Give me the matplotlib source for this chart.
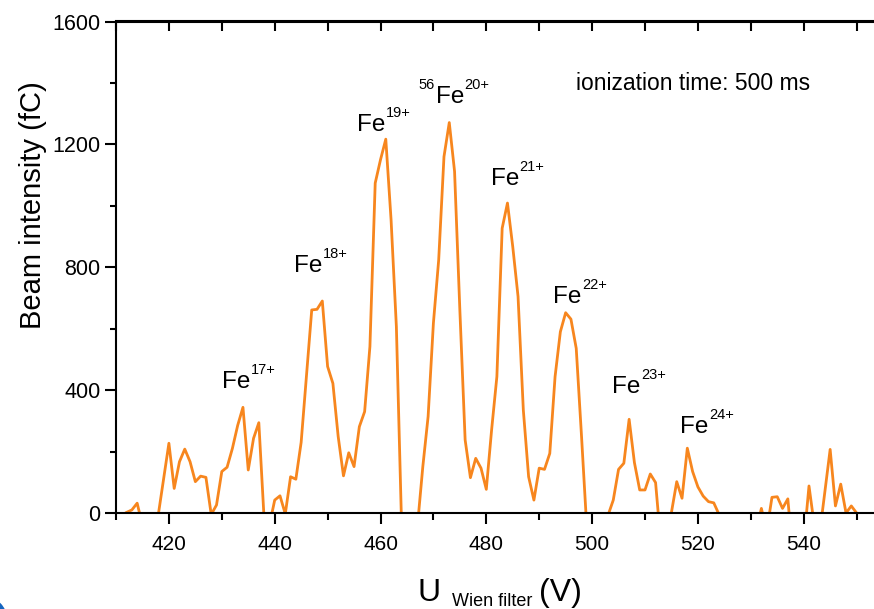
import numpy as np
import matplotlib.pyplot as plt
from matplotlib.ticker import MultipleLocator
from matplotlib.patches import Ellipse

plt.rcParams['font.family'] = ['Liberation Sans', 'DejaVu Sans']

# Wien filter voltage (V), 1 V steps
voltage = np.arange(412, 551)

# beam intensity (fC); negative readings fall below the axis
intensity = [
    2, 10, 32, -40, -60, -50, -5, 110, 227,           # 412-420
    80, 167, 208, 167, 102, 120, 116, -5, 26, 135,     # 421-430
    149, 210, 285, 344, 140, 243, 294, -20, -40, 42,   # 431-440
    56, -3, 118, 110, 230, 444, 661, 663, 690, 477,    # 441-450
    422, 249, 121, 196, 151, 281, 330, 542, 1074, 1150,  # 451-460
    1217, 954, 607, -50, -300, -200, -40, 151, 314, 618,  # 461-470
    824, 1160, 1271, 1112, 661, 238, 115, 178, 146, 77,   # 471-480
    270, 444, 927, 1009, 867, 705, 335, 118, 42, 146,     # 481-490
    142, 194, 444, 590, 652, 631, 536, 250, -50, -100,    # 491-500
    -120, -80, -8, 42, 142, 162, 305, 164, 75, 75,        # 501-510
    127, 99, -100, -60, 2, 102, 48, 211, 135, 85,         # 511-520
    55, 37, 33, -5, -50, -80, -90, -80, -70, -60,         # 521-530
    -60, 15, -60, 51, 53, 15, 46, -150, -100, -100,       # 531-540
    88, -40, -69, 69, 207, 23, 94, 0, 23, 0,              # 541-550
]

# peak labels: left edge of "Fe", baseline, charge state
ion_x = [430.1, 443.7, 455.6, 470.4, 480.8, 492.7, 503.8, 516.7]
ion_y = [407, 785, 1244, 1335, 1068, 684, 391, 261]
ion_charge = ['17+', '18+', '19+', '20+', '21+', '22+', '23+', '24+']
ion_mass = [None, None, None, '56', None, None, None, None]

x_ticks = [420, 440, 460, 480, 500, 520, 540]
orange = '#f7861e'

fig = plt.figure(figsize=(8.74, 6.09), dpi=100)
ax = fig.add_axes([116 / 874, 96 / 609, 793.5 / 874, 491.5 / 609])

ax.plot(voltage, intensity, color=orange, lw=2.0)
ax.set_xlim(410, 560)
ax.set_ylim(0, 1600)

ax.set_xticks(x_ticks)
ax.xaxis.set_minor_locator(MultipleLocator(10))
ax.set_yticks(np.arange(0, 1601, 400))
ax.yaxis.set_minor_locator(MultipleLocator(200))

for s in ['left', 'bottom', 'top']:
    ax.spines[s].set_linewidth(1.5)
ax.spines['right'].set_visible(False)

ax.tick_params(axis='x', which='major', direction='out', length=8, width=1.5,
               labelsize=15, pad=8, top=False)
ax.tick_params(axis='x', which='minor', direction='out', length=5, width=1.5, top=False)
ax.tick_params(axis='y', which='major', direction='out', length=8, width=1.5,
               labelsize=15.5, pad=3)
ax.tick_params(axis='y', which='minor', direction='out', length=4, width=1.5)

# top axis: inward ticks only
top = ax.secondary_xaxis('top')
top.set_xticks(x_ticks)
top.xaxis.set_minor_locator(MultipleLocator(10))
top.tick_params(axis='x', which='both', direction='in', length=7, width=1.5,
                labeltop=False)
top.spines['top'].set_linewidth(1.5)

# ion labels
for x, y, q, m in zip(ion_x, ion_y, ion_charge, ion_mass):
    t = ax.text(x, y, 'Fe', fontsize=17.5, ha='left', va='baseline')
    ax.annotate(q, xy=(1.0, y), xycoords=(t, 'data'), xytext=(0.3, 10),
                textcoords='offset points', fontsize=10.5, ha='left', va='baseline')
    if m:
        ax.annotate(m, xy=(0.0, y), xycoords=(t, 'data'), xytext=(-0.3, 10),
                    textcoords='offset points', fontsize=10.5, ha='right', va='baseline')

ax.text(497.0, 1378, 'ionization time: 500 ms', fontsize=16.5, ha='left', va='baseline')

# axis titles
fig.text(33 / 874, (609 - 205) / 609, 'Beam intensity (fC)', rotation=90,
         fontsize=21, ha='center', va='center')
fig.text(418 / 874, (609 - 601) / 609, 'U', fontsize=23, ha='left', va='baseline')
fig.text(452 / 874, (609 - 606) / 609, 'Wien filter', fontsize=13, ha='left', va='baseline')
fig.text(539 / 874, (609 - 601) / 609, '(V)', fontsize=23, ha='left', va='baseline')

# blue corner mark
fig.patches.append(Ellipse((-14 / 874, -9 / 609), 40 / 874, 40 / 609,
                           transform=fig.transFigure, color='#1565c0'))

fig.savefig('out.png', dpi=100)
